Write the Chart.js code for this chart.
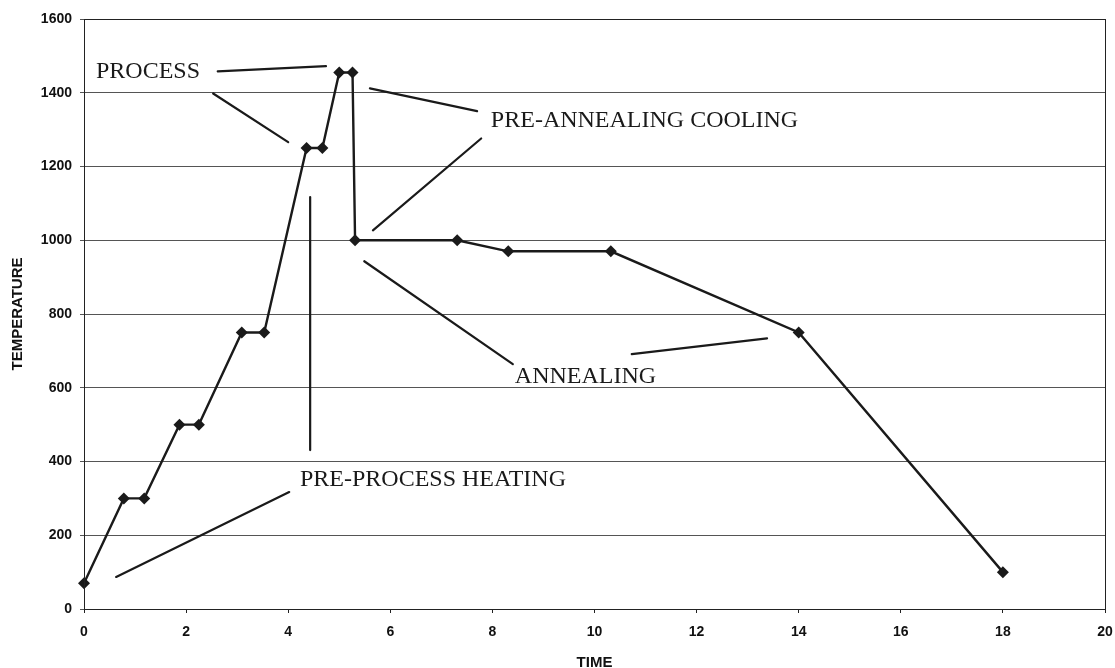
<!DOCTYPE html>
<html>
<head>
<meta charset="utf-8">
<script src="https://cdn.jsdelivr.net/npm/chart.js@4/dist/chart.umd.min.js"></script>
<style>
  html, body { margin: 0; padding: 0; background: #fff; }
  #wrap { width: 1115px; height: 668px; }
</style>
</head>
<body>
<div id="wrap"><canvas id="tempChart" width="1115" height="668"></canvas></div>
<script>
// heat treatment profile
const timeValues = [0, 0.78, 1.18, 1.87, 2.25, 3.09, 3.53, 4.36, 4.67, 5.0, 5.26, 5.31, 7.31, 8.31, 10.32, 14, 18];
const temperatureValues = [70, 300, 300, 500, 500, 750, 750, 1250, 1250, 1455, 1455, 1000, 1000, 970, 970, 750, 100];

const xTicks = [0, 2, 4, 6, 8, 10, 12, 14, 16, 18, 20];
const yTicks = [0, 200, 400, 600, 800, 1000, 1200, 1400, 1600];

// pointer lines, in data units [x1, y1, x2, y2]
const pointerLines = [
    [2.62, 1458, 4.74, 1472],
    [2.53, 1398, 4.0, 1266],
    [4.43, 1117, 4.43, 431],
    [0.63, 87, 4.02, 317],
    [5.6, 1412, 7.7, 1350],
    [5.66, 1027, 7.78, 1276],
    [5.49, 943, 8.4, 664],
    [10.73, 691, 13.38, 734]
];
const phaseLabels = ['PROCESS', 'PRE-ANNEALING COOLING', 'ANNEALING', 'PRE-PROCESS HEATING'];
const phaseLabelX = [0.235, 7.97, 8.44, 4.23];
const phaseLabelY = [1458, 1325, 631, 350];

const points = timeValues.map((t, i) => ({ x: t, y: temperatureValues[i] }));

const frameAndNotes = {
    id: 'frameAndNotes',
    afterDatasetsDraw(chart) {
        const ctx = chart.ctx;
        const xs = chart.scales.x, ys = chart.scales.y;
        const area = chart.chartArea;
        ctx.save();
        ctx.strokeStyle = '#222';
        ctx.lineWidth = 1;
        ctx.strokeRect(area.left + 0.5, area.top + 0.5, area.right - area.left, area.bottom - area.top);

        ctx.lineWidth = 2.2;
        ctx.strokeStyle = '#1a1a1a';
        ctx.lineCap = 'round';
        pointerLines.forEach(l => {
            ctx.beginPath();
            ctx.moveTo(xs.getPixelForValue(l[0]), ys.getPixelForValue(l[1]));
            ctx.lineTo(xs.getPixelForValue(l[2]), ys.getPixelForValue(l[3]));
            ctx.stroke();
        });

        ctx.fillStyle = '#1a1a1a';
        ctx.font = '24px "Liberation Serif", "Times New Roman", serif';
        ctx.textAlign = 'left';
        ctx.textBaseline = 'middle';
        phaseLabels.forEach((txt, i) => {
            ctx.fillText(txt, xs.getPixelForValue(phaseLabelX[i]), ys.getPixelForValue(phaseLabelY[i]));
        });
        ctx.restore();
    }
};

const axisFont = { family: '"Liberation Sans", Arial, sans-serif', size: 14, weight: 'bold' };
const titleFont = { family: '"Liberation Sans", Arial, sans-serif', size: 15, weight: 'bold', lineHeight: 1 };

const ctx = document.getElementById('tempChart').getContext('2d');
new Chart(ctx, {
    type: 'line',
    data: {
        datasets: [{
            data: points,
            borderColor: '#1a1a1a',
            borderWidth: 2.4,
            backgroundColor: '#1a1a1a',
            pointStyle: 'rectRot',
            pointRadius: 6,
            pointBorderWidth: 0,
            tension: 0,
            fill: false,
            clip: false
        }]
    },
    options: {
        responsive: false,
        animation: false,
        layout: { padding: { top: 19, right: 10, left: 0, bottom: 0 } },
        plugins: {
            legend: { display: false },
            tooltip: { enabled: false }
        },
        scales: {
            x: {
                type: 'linear',
                min: 0,
                max: 20,
                afterBuildTicks: axis => { axis.ticks = xTicks.map(v => ({ value: v })); },
                afterFit: axis => {
                    axis.height = 59;
                    axis.paddingLeft = 0;
                    axis.paddingRight = 0;
                },
                grid: { drawOnChartArea: false, tickLength: 4, color: '#222' },
                border: { color: '#222', width: 1 },
                ticks: { color: '#111', padding: 11, font: axisFont },
                title: {
                    display: true,
                    text: 'TIME',
                    color: '#111',
                    padding: { top: 0, bottom: -2 },
                    font: titleFont
                }
            },
            y: {
                min: 0,
                max: 1600,
                afterBuildTicks: axis => { axis.ticks = yTicks.map(v => ({ value: v })); },
                afterFit: axis => { axis.width = 84; },
                grid: { color: '#555', lineWidth: 1, tickLength: 4 },
                border: { color: '#222', width: 1 },
                ticks: { color: '#111', padding: 8, font: axisFont, callback: v => String(v) },
                title: {
                    display: true,
                    text: 'TEMPERATURE',
                    color: '#111',
                    padding: { top: 10, bottom: 0 },
                    font: titleFont
                }
            }
        }
    },
    plugins: [frameAndNotes]
});
</script>
</body>
</html>
